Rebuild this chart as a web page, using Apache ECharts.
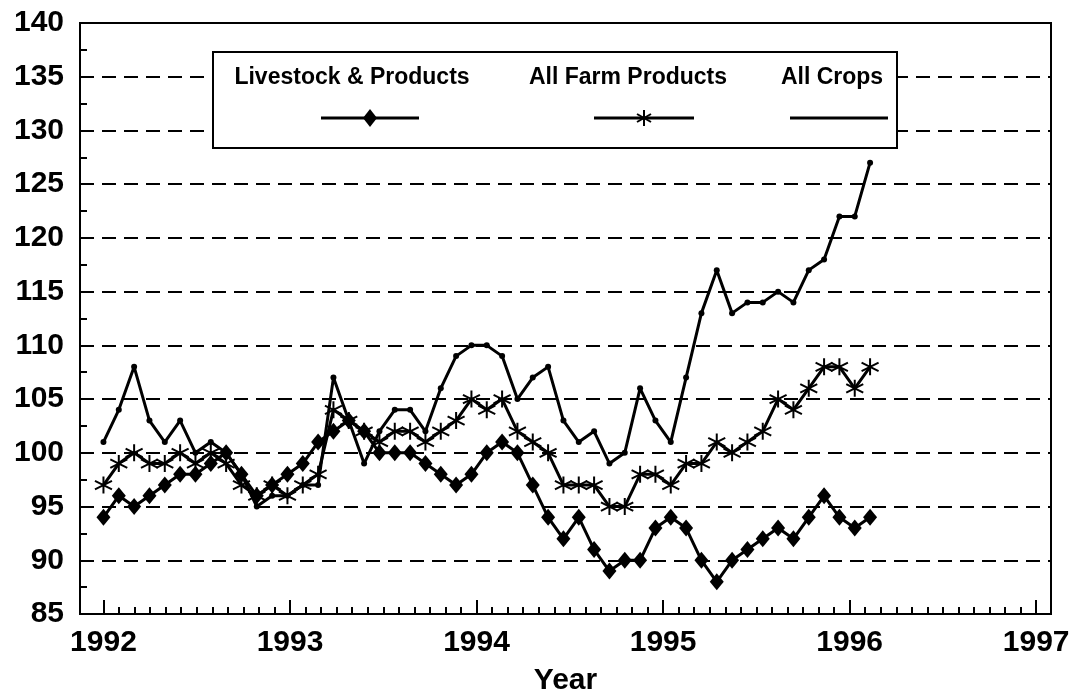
<!DOCTYPE html>
<html><head><meta charset="utf-8">
<script src="https://cdn.jsdelivr.net/npm/echarts@6/dist/echarts.min.js"></script>
<style>html,body{margin:0;padding:0;background:#fff}#c{width:1069px;height:699px}</style>
</head><body><div id="c"></div>
<script>
// Values every 30 days, starting Jan 1992 (index 0) .. index 50
const yearLabels = ['1992', '1993', '1994', '1995', '1996', '1997'];
const seriesNames = ['Livestock & Products', 'All Farm Products', 'All Crops'];
const livestock = [94, 96, 95, 96, 97, 98, 98, 99, 100, 98, 96, 97, 98, 99, 101, 102, 103, 102, 100, 100, 100, 99, 98, 97,
  98, 100, 101, 100, 97, 94, 92, 94, 91, 89, 90, 90, 93, 94, 93, 90, 88, 90, 91, 92, 93, 92, 94, 96, 94, 93, 94];
const allFarm = [97, 99, 100, 99, 99, 100, 99, 100, 99, 97, 96, 97, 96, 97, 98, 104, 103, 102, 101, 102, 102, 101, 102, 103,
  105, 104, 105, 102, 101, 100, 97, 97, 97, 95, 95, 98, 98, 97, 99, 99, 101, 100, 101, 102, 105, 104, 106, 108, 108, 106, 108];
const allCrops = [101, 104, 108, 103, 101, 103, 100, 101, 100, 98, 95, 96, 96, 97, 97, 107, 103, 99, 102, 104, 104, 102, 106, 109,
  110, 110, 109, 105, 107, 108, 103, 101, 102, 99, 100, 106, 103, 101, 107, 113, 117, 113, 114, 114, 115, 114, 117, 118, 122, 122, 127];

const FONT = '"Liberation Sans", Arial, sans-serif';
const STEPS_PER_YEAR = 365 / 30;           // one data step = 30 days
const toPairs = arr => arr.map((v, i) => [i, v]);
const majorTicks = yearLabels.map((y, k) => k * STEPS_PER_YEAR);
const minorTicks = [];
for (let m = 1; m < 61; m++) if (m % 12 !== 0) minorTicks.push(m * STEPS_PER_YEAR / 12);

const asterisk = 'path://M10,0 L10,20 M1.34,5 L18.66,15 M1.34,15 L18.66,5';

const chart = echarts.init(document.getElementById('c'), null, {renderer: 'canvas'});
const txt = (x, s) => ({type: 'text', z: 101, x: x, y: 78, style: {text: s, font: 'bold 23px ' + FONT, fill: '#000', align: 'center', verticalAlign: 'middle', textAlign: 'center', textVerticalAlign: 'middle'}});
const seg = (x1, y1, x2, y2, w) => ({type: 'line', z: 102, shape: {x1, y1, x2, y2}, style: {stroke: '#000', lineWidth: w}});
chart.setOption({
  animation: false,
  backgroundColor: '#fff',
  grid: {left: 80, right: 18, top: 23, bottom: 85, show: true, borderColor: '#000', borderWidth: 2, backgroundColor: 'transparent',
    outerBoundsMode: 'none', containLabel: false},
  xAxis: [{
    type: 'value', min: -1.53, max: 61.8,
    axisLine: {show: true, onZero: false, lineStyle: {color: '#000', width: 2}},
    axisTick: {show: true, inside: true, length: 14, customValues: majorTicks, lineStyle: {color: '#000', width: 2}},
    axisLabel: {show: true, customValues: majorTicks, formatter: v => yearLabels[Math.round(v / STEPS_PER_YEAR)],
      color: '#000', fontSize: 30, fontWeight: 'bold', fontFamily: FONT, margin: 14},
    splitLine: {show: false},
    name: 'Year', nameLocation: 'middle', nameGap: 52,
    nameTextStyle: {color: '#000', fontSize: 30, fontWeight: 'bold', fontFamily: FONT}
  }, {
    type: 'value', min: -1.53, max: 61.8, position: 'bottom',
    axisLine: {show: false, onZero: false},
    axisTick: {show: true, inside: true, length: 7, customValues: minorTicks, lineStyle: {color: '#000', width: 2}},
    axisLabel: {show: false},
    splitLine: {show: false}
  }],
  yAxis: {
    type: 'value', min: 85, max: 140, interval: 5,
    axisLine: {show: true, onZero: false, lineStyle: {color: '#000', width: 2}},
    axisTick: {show: true, inside: true, length: 7, lineStyle: {color: '#000', width: 2}},
    minorTick: {show: true, splitNumber: 2, length: 7, lineStyle: {color: '#000', width: 2}},
    axisLabel: {color: '#000', fontSize: 30, fontWeight: 'bold', fontFamily: FONT, margin: 16},
    splitLine: {show: true, lineStyle: {color: '#000', width: 2, type: [14, 8]}}
  },
  series: [{
    name: seriesNames[2], type: 'line', data: toPairs(allCrops),
    symbol: 'circle', symbolSize: 6, showAllSymbol: true,
    lineStyle: {color: '#000', width: 3}, itemStyle: {color: '#000'}, z: 3
  }, {
    name: seriesNames[1], type: 'line', data: toPairs(allFarm),
    symbol: asterisk, symbolSize: 17, showAllSymbol: true,
    lineStyle: {color: '#000', width: 3}, itemStyle: {color: '#000', borderColor: '#000', borderWidth: 2}, z: 4
  }, {
    name: seriesNames[0], type: 'line', data: toPairs(livestock),
    symbol: 'diamond', symbolSize: [14, 17], showAllSymbol: true,
    lineStyle: {color: '#000', width: 3}, itemStyle: {color: '#000'}, z: 5
  }],
  graphic: [
    {type: 'rect', z: 100, shape: {x: 213, y: 52, width: 684, height: 96}, style: {fill: '#fff', stroke: '#000', lineWidth: 2}},
    txt(352, seriesNames[0]), txt(628, seriesNames[1]), txt(832, seriesNames[2]),
    seg(321, 118, 419, 118, 3),
    {type: 'polygon', z: 102, shape: {points: [[370, 109], [377, 118], [370, 127], [363, 118]]}, style: {fill: '#000'}},
    seg(594, 118, 694, 118, 3),
    seg(644, 110, 644, 126, 2), seg(637, 114, 651, 122, 2), seg(637, 122, 651, 114, 2),
    seg(790, 118, 888, 118, 3)
  ]
});
</script>
</body></html>
